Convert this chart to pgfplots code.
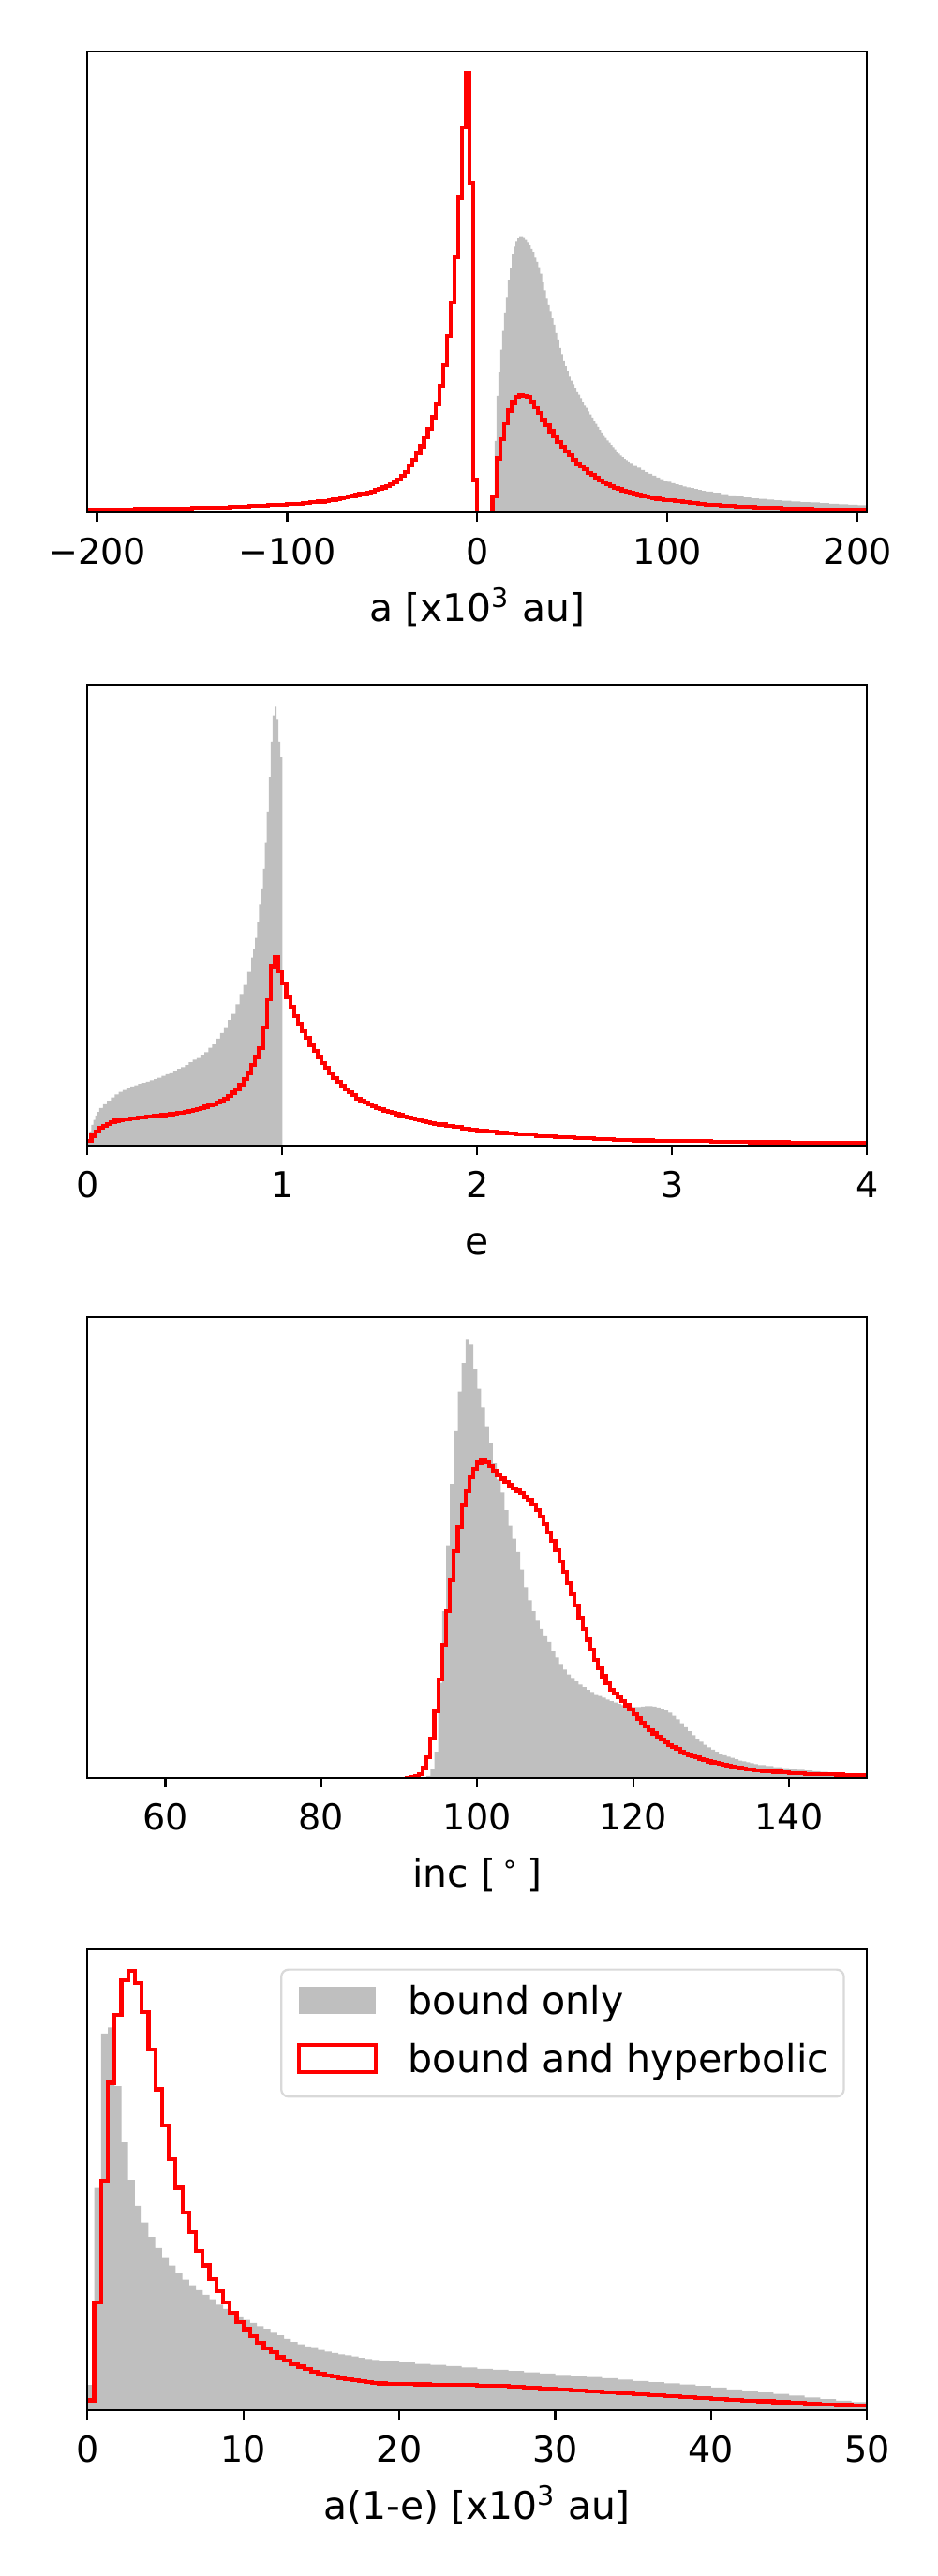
\documentclass[border=0pt]{standalone}
\usepackage{fontspec}
\setmainfont{DejaVu Sans}
\usepackage{pgfplots}
\pgfplotsset{compat=1.18}
\definecolor{silver}{RGB}{191,191,191}
\definecolor{mplred}{RGB}{255,0,0}
\definecolor{legedge}{RGB}{217,217,217}
\pgfplotsset{
  histax/.style={
    scale only axis, width=299.5pt, height=177.3pt,
    anchor=south west,
    ymin=0, ymax=105, ytick=\empty,
    axis on top, clip=true,
    tick align=outside, xtick pos=left,
    major tick length=3.5pt,
    tick style={black, line width=0.8pt},
    axis line style={line width=0.8pt},
    xticklabel style={anchor=base, yshift=-16.3pt, inner sep=0pt, font=\fontsize{13.7pt}{16pt}\selectfont},
    xlabel style={at={(axis description cs:0.5,0)}, anchor=base, yshift=-41.7pt, inner sep=0pt, font=\fontsize{14.7pt}{17pt}\selectfont},
  },
  grayhist/.style={fill=silver, draw=none, const plot, mark=none},
  redhist/.style={draw=mplred, line width=1.5pt, const plot, line join=miter, mark=none},
}
\begin{document}
\fontsize{14pt}{16.8pt}\selectfont
\begin{tikzpicture}
\path[use as bounding box] (0,0) rectangle (360pt,990pt);

% ---------------- panel 1: a ----------------
\begin{axis}[histax, at={(33.6pt,792.97pt)}, xmin=-205, xmax=205,
  xtick={-200,-100,0,100,200}, xticklabels={−200,−100,0,100,200},
  xlabel={a [x10\textsuperscript{3} au]}]
\addplot[grayhist] coordinates {
(9.1,16.3) (10.1,26.5) (11.1,32.0) (12.1,37.0) (13.1,41.5) (14.1,45.5) (15.1,49.0) (16.1,52.9) (17.1,55.7) (18.1,58.9)
(19.1,60.5) (20.1,61.8) (21.1,62.5) (22.1,62.8) (23.1,62.8) (24.1,62.6) (25.1,62.2) (26.1,61.6) (27.1,60.8) (28.1,60.0)
(29.1,59.3) (30.1,58.2) (31.1,57.0) (32.1,55.8) (33.1,54.5) (34.1,52.5) (35.1,50.5) (36.1,48.8) (37.1,47.2) (38.1,45.8)
(39.1,44.3) (40.1,42.7) (41.1,41.0) (42.1,39.3) (43.1,37.6) (44.1,36.0) (45.1,34.6) (46.1,33.3) (47.1,32.2) (48.1,31.1)
(49.1,30.0) (50.1,29.2) (51.1,28.4) (52.1,27.6) (53.1,26.8) (54.1,26.0) (55.1,25.2) (56.1,24.5) (57.1,23.8) (58.1,23.0)
(59.1,22.3) (60.1,21.6) (61.1,20.9) (62.1,20.2) (63.1,19.5) (64.1,18.8) (65.1,18.2) (66.1,17.6) (67.1,17.0) (68.1,16.4)
(69.1,15.9) (70.1,15.4) (71.1,14.9) (72.1,14.4) (73.1,13.9) (74.1,13.4) (75.1,13.0) (76.1,12.6) (77.1,12.2) (78.1,11.9)
(79.1,11.6) (80.1,11.3) (82.1,10.8) (84.1,10.2) (86.1,9.7) (88.1,9.2) (90.1,8.8) (92.1,8.4) (94.1,8.0) (96.1,7.6)
(98.1,7.3) (100.1,7.0) (102.1,6.7) (104.1,6.45) (106.1,6.2) (108.1,5.95) (110.1,5.75) (112.1,5.55) (114.1,5.35) (116.1,5.15)
(118.1,4.95) (120.1,4.8) (124.1,4.5) (128.1,4.2) (132.1,3.9) (136.1,3.65) (140.1,3.45) (144.1,3.25) (148.1,3.1) (152.1,2.95)
(156.1,2.8) (160.1,2.7) (165.1,2.55) (170.1,2.4) (175.1,2.3) (180.1,2.15) (185.1,2.0) (190.1,1.9) (195.1,1.8) (200.1,1.7)
(207,1.7)
} \closedcycle;
\addplot[redhist] coordinates {
(-207,0.6) (-190,0.7) (-180,0.8) (-170,0.9) (-160,1.0) (-150,1.1) (-140,1.2) (-130,1.35) (-120,1.5) (-115,1.6)
(-110,1.7) (-105,1.8) (-100,1.95) (-96,2.05) (-92,2.2) (-88,2.35) (-84,2.5) (-80,2.7) (-78,2.8) (-76,2.95)
(-74,3.1) (-72,3.25) (-70,3.4) (-68,3.6) (-66,3.8) (-64,4.0) (-62,4.2) (-60,4.4) (-58,4.6) (-56,4.8)
(-54,5.1) (-52,5.4) (-50,5.7) (-48,6.1) (-46,6.5) (-44,7.0) (-42,7.6) (-40,8.3) (-38,9.3) (-36,10.8)
(-34,12.0) (-32,13.6) (-30,15.1) (-28,17.1) (-26,19.1) (-24,21.7) (-22,24.8) (-20,28.8) (-18,33.6) (-16,40.1)
(-14,47.9) (-12,58.2) (-10,71.8) (-8,87.7) (-6,100) (-4,75.1) (-2,7.4) (0,0) (8,3.7) (10,12.3)
(12,16.8) (14,20.3) (16,23.2) (18,25.1) (20,26.3) (22,26.6) (24,26.5) (26,26.2) (28,25.3) (30,23.9)
(32,22.6) (34,21.1) (36,19.8) (38,18.5) (40,17.3) (42,16.1) (44,15.0) (46,14.0) (48,13.0) (50,12.0)
(52,11.2) (54,10.5) (56,9.8) (58,9.1) (60,8.5) (62,7.9) (64,7.3) (66,6.8) (68,6.4) (70,6.0)
(72,5.6) (74,5.3) (76,5.0) (78,4.7) (80,4.45) (82,4.2) (84,4.0) (86,3.8) (88,3.6) (90,3.45)
(92,3.3) (94,3.15) (96,3.0) (98,2.9) (100,2.75) (104,2.55) (108,2.35) (112,2.15) (116,2.0) (120,1.85)
(124,1.7) (128,1.6) (132,1.5) (136,1.4) (140,1.3) (146,1.15) (152,1.05) (160,0.95) (168,0.85) (176,0.75)
(184,0.68) (192,0.62) (200,0.58) (207,0.58)
};
\end{axis}

% ---------------- panel 2: e ----------------
\begin{axis}[histax, at={(33.6pt,549.6pt)}, xmin=0, xmax=4,
  xtick={0,1,2,3,4}, xticklabels={0,1,2,3,4},
  xlabel={e}]
\addplot[grayhist] coordinates {
(0,1.5) (0.01,3.3) (0.02,4.8) (0.03,5.9) (0.04,6.9) (0.05,7.7) (0.06,8.6) (0.08,9.5) (0.10,10.3) (0.12,11.0)
(0.14,11.7) (0.16,12.3) (0.18,12.7) (0.20,13.1) (0.22,13.5) (0.24,13.8) (0.26,14.1) (0.28,14.3) (0.30,14.6) (0.32,14.9)
(0.34,15.2) (0.36,15.5) (0.38,15.9) (0.40,16.3) (0.42,16.7) (0.44,17.1) (0.46,17.5) (0.48,17.9) (0.50,18.4) (0.52,19.0)
(0.54,19.6) (0.56,20.2) (0.58,20.7) (0.60,21.3) (0.62,22.3) (0.64,23.2) (0.66,24.4) (0.68,25.7) (0.70,27.0) (0.72,28.6)
(0.74,30.2) (0.76,32.2) (0.78,34.5) (0.80,36.8) (0.82,39.6) (0.84,42.8) (0.85,44.8) (0.86,47.5) (0.87,51.0) (0.88,55.0)
(0.89,58.5) (0.90,63.0) (0.91,69.0) (0.92,76.0) (0.93,84.0) (0.94,92.0) (0.95,98.0) (0.96,100.0) (0.97,97.0) (0.98,92.0)
(0.99,88.5) (1.0,88.5)
} \closedcycle;
\addplot[redhist] coordinates {
(0,1.2) (0.02,2.3) (0.04,3.3) (0.06,4.1) (0.08,4.6) (0.10,5.0) (0.12,5.4) (0.14,5.7) (0.16,5.9) (0.18,6.0)
(0.20,6.1) (0.22,6.2) (0.24,6.3) (0.26,6.4) (0.28,6.5) (0.30,6.6) (0.32,6.7) (0.34,6.8) (0.36,6.9) (0.38,7.0)
(0.40,7.1) (0.42,7.2) (0.44,7.35) (0.46,7.5) (0.48,7.6) (0.50,7.8) (0.52,8.0) (0.54,8.2) (0.56,8.4) (0.58,8.6)
(0.60,8.9) (0.62,9.2) (0.64,9.5) (0.66,9.9) (0.68,10.3) (0.70,10.8) (0.72,11.4) (0.74,12.1) (0.76,12.9) (0.78,14.0)
(0.80,15.2) (0.82,16.6) (0.84,18.4) (0.86,20.3) (0.88,22.3) (0.90,27.0) (0.92,33.3) (0.94,40.9) (0.96,43.0) (0.98,39.7)
(1.00,36.9) (1.02,34.0) (1.04,31.7) (1.06,29.4) (1.08,27.8) (1.10,26.2) (1.12,24.5) (1.14,23.0) (1.16,21.6) (1.18,20.2)
(1.20,18.9) (1.22,17.7) (1.24,16.5) (1.26,15.4) (1.28,14.5) (1.30,13.7) (1.32,12.9) (1.34,12.2) (1.36,11.5) (1.38,10.8)
(1.40,10.3) (1.42,9.8) (1.44,9.4) (1.46,9.0) (1.48,8.6) (1.50,8.3) (1.52,8.0) (1.54,7.7) (1.56,7.5) (1.58,7.2)
(1.60,7.0) (1.62,6.7) (1.64,6.5) (1.66,6.2) (1.68,6.0) (1.70,5.8) (1.72,5.6) (1.74,5.4) (1.76,5.2) (1.78,5.0)
(1.80,4.85) (1.84,4.55) (1.88,4.25) (1.92,3.95) (1.96,3.7) (2.00,3.45) (2.05,3.2) (2.10,2.95) (2.15,2.75) (2.20,2.55)
(2.30,2.25) (2.40,2.0) (2.50,1.75) (2.60,1.55) (2.70,1.4) (2.80,1.25) (2.90,1.15) (3.00,1.05) (3.20,0.9) (3.40,0.8)
(3.60,0.7) (3.80,0.6) (4.05,0.6)
};
\end{axis}

% ---------------- panel 3: inc ----------------
\begin{axis}[histax, at={(33.6pt,306.6pt)}, xmin=50, xmax=150,
  xtick={60,80,100,120,140}, xticklabels={60,80,100,120,140},
  xlabel={inc [\,\textsuperscript{∘}\,]}]
\addplot[grayhist] coordinates {
(93.5,0.5) (94,2.0) (94.5,6.0) (95,21.7) (95.5,38.0) (96,53.0) (96.5,67.0) (97,79.0) (97.5,88.0) (98,94.5)
(98.5,100.0) (99,98.7) (99.5,93.0) (100,88.6) (100.5,84.4) (101,80.1) (101.5,76.3) (102,71.7) (102.5,68.0) (103,65.0)
(103.5,61.0) (104,57.5) (104.5,54.5) (105,51.5) (105.5,47.5) (106,43.5) (106.5,40.5) (107,38.0) (107.5,36.0) (108,34.0)
(108.5,32.5) (109,31.0) (109.5,29.0) (110,27.5) (110.5,26.0) (111,24.7) (111.5,23.6) (112,22.8) (112.5,22.0) (113,21.3)
(113.5,20.7) (114,20.1) (114.5,19.6) (115,19.1) (115.5,18.7) (116,18.3) (116.5,17.9) (117,17.5) (117.5,17.2) (118,16.9)
(118.5,16.6) (119,16.4) (119.5,16.3) (120,16.2) (120.5,16.2) (121,16.3) (121.5,16.4) (122,16.4) (122.5,16.3) (123,16.1)
(123.5,15.8) (124,15.4) (124.5,14.9) (125,14.2) (125.5,13.4) (126,12.5) (126.5,11.6) (127,10.7) (127.5,9.8) (128,9.0)
(128.5,8.3) (129,7.6) (129.5,7.0) (130,6.5) (130.5,6.0) (131,5.6) (131.5,5.2) (132,4.9) (132.5,4.6) (133,4.3)
(133.5,4.0) (134,3.8) (134.5,3.6) (135,3.4) (135.5,3.2) (136,3.0) (137,2.75) (138,2.5) (139,2.3) (140,2.1)
(141,1.9) (142,1.75) (143,1.6) (144,1.45) (145,1.3) (146,1.15) (147,1.0) (148,0.9) (149,0.8) (151,0.8)
} \closedcycle;
\addplot[redhist] coordinates {
(91,0) (91,0.15) (91.5,0.3) (92,0.5) (92.5,0.9) (93,2.3) (93.5,4.8) (94,9.0) (94.5,15.3) (95,22.4)
(95.5,30.3) (96,38.0) (96.5,45.1) (97,51.6) (97.5,57.2) (98,62.1) (98.5,65.3) (99,68.5) (99.5,70.5) (100,71.8)
(100.5,72.4) (101,72.0) (101.5,71.0) (102,69.9) (102.5,69.0) (103,68.2) (103.5,67.4) (104,66.7) (104.5,66.0) (105,65.4)
(105.5,64.8) (106,64.1) (106.5,63.4) (107,62.4) (107.5,61.0) (108,59.5) (108.5,57.9) (109,56.0) (109.5,54.0) (110,51.8)
(110.5,49.4) (111,46.9) (111.5,44.4) (112,41.9) (112.5,39.3) (113,36.6) (113.5,34.0) (114,31.5) (114.5,29.2) (115,27.0)
(115.5,25.0) (116,23.2) (116.5,21.6) (117,20.1) (117.5,19.3) (118,18.5) (118.5,17.5) (119,16.6) (119.5,15.6) (120,14.6)
(120.5,13.6) (121,12.7) (121.5,11.8) (122,11.0) (122.5,10.2) (123,9.5) (123.5,8.8) (124,8.2) (124.5,7.6) (125,7.1)
(125.5,6.6) (126,6.1) (126.5,5.7) (127,5.3) (127.5,5.0) (128,4.7) (128.5,4.4) (129,4.1) (129.5,3.8) (130,3.6)
(130.5,3.4) (131,3.2) (131.5,3.0) (132,2.8) (132.5,2.6) (133,2.45) (133.5,2.3) (134,2.15) (134.5,2.0) (135,1.9)
(135.5,1.8) (136,1.72) (136.5,1.65) (137,1.58) (138,1.45) (139,1.32) (140,1.2) (141,1.1) (142,1.0) (143,0.95)
(144,0.9) (145,0.85) (146,0.8) (147,0.75) (148,0.7) (149,0.65) (150,0.6) (151,0.6)
};
\end{axis}

% ---------------- panel 4: a(1-e) ----------------
\begin{axis}[histax, at={(33.6pt,63.6pt)}, xmin=0, xmax=50,
  xtick={0,10,20,30,40,50}, xticklabels={0,10,20,30,40,50},
  xlabel={a(1-e) [x10\textsuperscript{3} au]},
  legend cell align=left,
  legend style={at={(axis description cs:0.9716,0.958)}, anchor=north east,
    draw=legedge, line width=0.8pt, rounded corners=2.8pt, fill=white,
    font=\fontsize{14.8pt}{17pt}\selectfont,
    inner xsep=5.9pt, inner ysep=5.7pt, row sep=7.45pt, column sep=11.84pt,
    nodes={inner sep=0pt, text height=11.25pt, text depth=3.5pt}}]
\addplot[grayhist, legend image code/.code={
    \path[draw=none, fill=none] (0pt,-7.5pt) rectangle (29.6pt,7.5pt);
    \fill[silver, sharp corners] (0pt,-3.675pt) rectangle (29.6pt,6.685pt);}] coordinates {
(0,5.8) (0.435,50.7) (0.870,85.8) (1.304,87.2) (1.739,73.8) (2.174,61.0) (2.609,52.5) (3.043,46.6) (3.478,42.8) (3.913,39.5)
(4.348,37.0) (4.783,34.9) (5.217,33.0) (5.652,31.3) (6.087,29.8) (6.522,28.5) (6.957,27.4) (7.391,26.3) (7.826,25.3) (8.261,24.1)
(8.696,23.1) (9.130,22.4) (9.565,21.4) (10.0,20.6) (10.435,19.9) (10.870,19.2) (11.304,18.6) (11.739,17.7) (12.174,17.1) (12.609,16.3)
(13.043,15.6) (13.478,15.1) (13.913,14.6) (14.348,14.2) (14.783,13.8) (15.217,13.4) (15.652,13.1) (16.087,12.8) (16.522,12.55) (16.957,12.3)
(17.391,12.0) (17.826,11.7) (18.261,11.5) (18.696,11.3) (19.13,11.2) (20,10.9) (21,10.6) (22,10.4) (23,10.1) (24,9.8)
(25,9.5) (26,9.25) (27,9.0) (28,8.7) (29,8.4) (30,8.1) (31,7.85) (32,7.6) (33,7.35) (34,7.0)
(35,6.7) (36,6.45) (37,6.2) (38,5.9) (39,5.6) (40,5.2) (41,4.8) (42,4.45) (43,4.1) (44,3.75)
(45,3.4) (46,3.0) (47,2.6) (48,2.25) (49,1.9) (50.5,1.9)
} \closedcycle;
\addlegendentry{bound only}
\addplot[redhist, legend image code/.code={
    \path[draw=none, fill=none] (0pt,-7.5pt) rectangle (29.6pt,7.5pt);
    \draw[mplred, line width=1.5pt, sharp corners, fill=none] (0pt,-3.675pt) rectangle (29.6pt,6.685pt);}] coordinates {
(0,2.3) (0.435,24.6) (0.870,52.3) (1.304,74.6) (1.739,90.0) (2.174,98.0) (2.609,100) (3.043,97.2) (3.478,90.6) (3.913,82.2)
(4.348,73.1) (4.783,64.8) (5.217,57.2) (5.652,50.7) (6.087,45.1) (6.522,40.6) (6.957,36.4) (7.391,33.0) (7.826,30.0) (8.261,27.2)
(8.696,24.6) (9.130,22.3) (9.565,20.1) (10.0,18.5) (10.435,16.9) (10.870,15.4) (11.304,14.2) (11.739,13.2) (12.174,12.1) (12.609,11.4)
(13.043,10.5) (13.478,10.0) (13.913,9.4) (14.348,8.9) (14.783,8.4) (15.217,8.0) (15.652,7.7) (16.087,7.3) (16.522,7.1) (16.957,6.9)
(17.391,6.7) (17.826,6.45) (18.261,6.3) (18.696,6.15) (19.13,6.05) (20,6.0) (21,5.95) (22,5.9) (23,5.85) (24,5.8)
(25,5.7) (26,5.55) (27,5.35) (28,5.1) (29,4.9) (30,4.7) (31,4.5) (32,4.35) (33,4.2) (34,3.95)
(35,3.7) (36,3.45) (37,3.2) (38,3.0) (39,2.8) (40,2.6) (41,2.4) (42,2.25) (43,2.1) (44,1.9)
(45,1.7) (46,1.55) (47,1.4) (48,1.25) (49,1.1) (50.5,1.1)
};
\addlegendentry{bound and hyperbolic}
\end{axis}
\end{tikzpicture}
\end{document}
